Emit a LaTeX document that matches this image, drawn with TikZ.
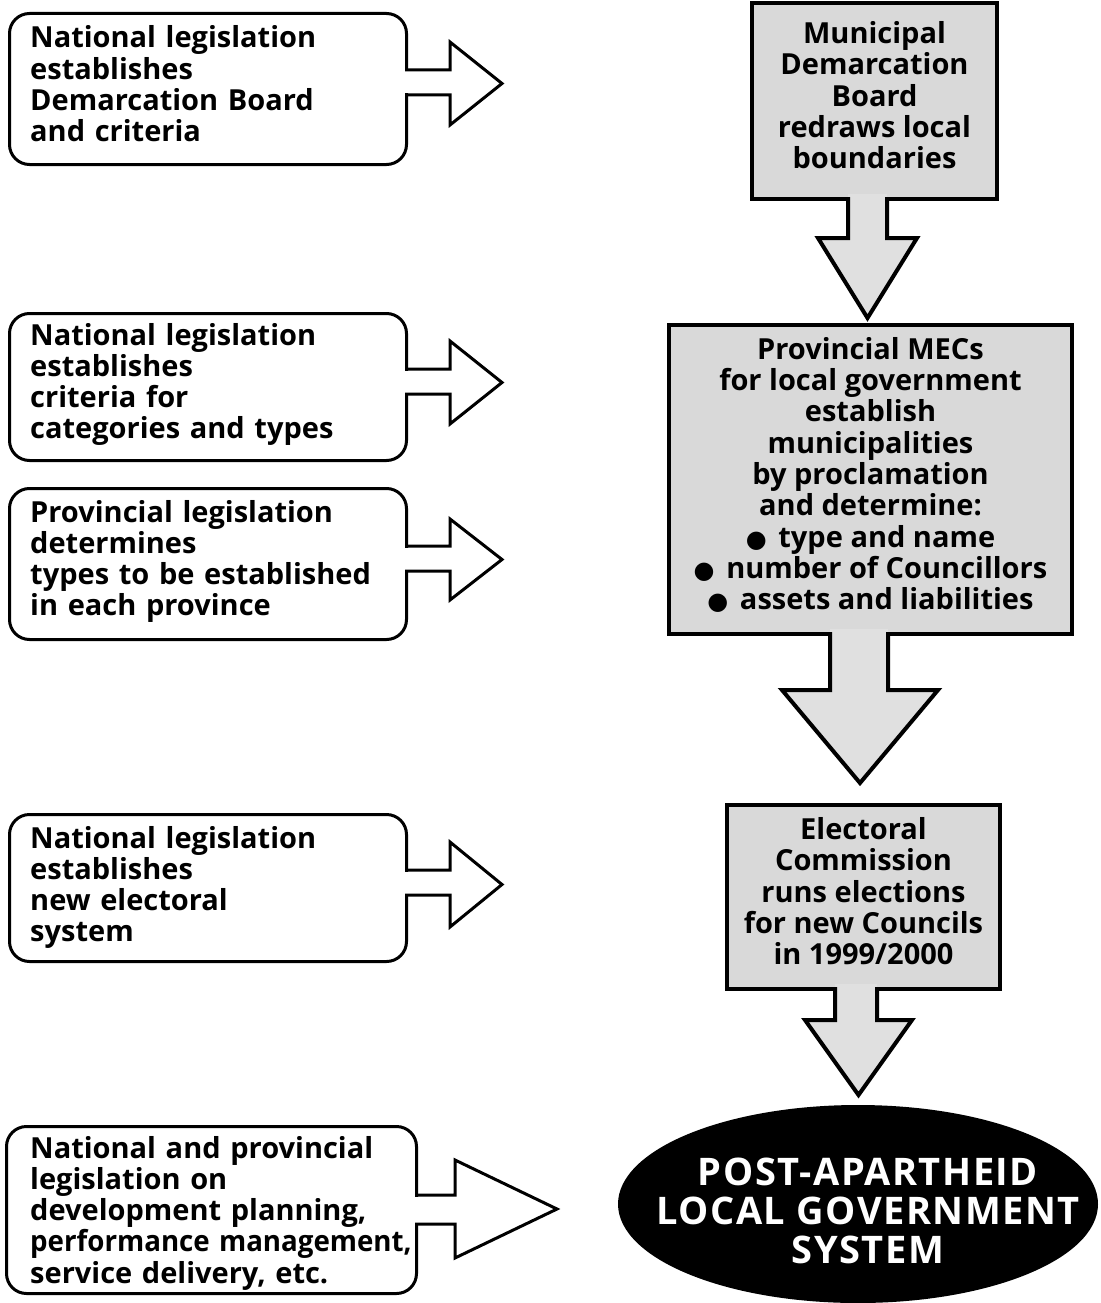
\documentclass[tikz,border=0pt]{standalone}
\usepackage{fontspec}
\usepackage{graphicx}
\setmainfont{Open Sans}
\newfontfamily\ovalfont[LetterSpace=4]{Open Sans}
\newfontfamily\symfont{DejaVu Sans}
\usetikzlibrary{shapes.geometric}
\newcommand\blt{{\symfont\fontsize{24}{24}\selectfont ●}\hspace{0.4em}}
\newcommand\barrowR[7]{%
  \fill[white] (#1-3,#2+1.5) rectangle (#4-1.5,#3-1.5);
  \draw[arrowline] (#1,#2) -- (#4,#2) -- (#4,#5) -- (#7,{(#5+#6)/2}) -- (#4,#6) -- (#4,#3) -- (#1,#3);}
\newcommand\barrowD[7]{%
  \fill[arrowfill] (#2,#1-3) -- (#2,#4) -- (#5,#4) -- ({(#5+#6)/2},#7) -- (#6,#4) -- (#3,#4) -- (#3,#1-3) -- cycle;
  \draw[darrowline] (#2,#1) -- (#2,#4) -- (#5,#4) -- ({(#5+#6)/2},#7) -- (#6,#4) -- (#3,#4) -- (#3,#1);}
\begin{document}
\begin{tikzpicture}[x=1pt,y=-1pt,
  txt/.style={font=\bfseries\fontsize{29}{31.3}\selectfont},
  lbox/.style={draw, line width=3pt, rounded corners=20pt, fill=white, anchor=north west, inner sep=0pt},
  ltext/.style={txt, align=left, inner sep=0pt, anchor=base west, text width=380pt},
  rbox/.style={txt, draw, line width=4pt, fill=black!15, anchor=north west,
    align=center, inner sep=0pt, text depth=12pt},
  arrowline/.style={line width=3pt, line join=miter},
  arrowfill/.style={fill=black!12},
  darrowline/.style={line width=4pt, line join=miter},
  bigoval/.style={ellipse, fill=black, inner sep=0pt},
  ovaltext/.style={text=white, align=center, inner sep=0pt,
    font=\ovalfont\bfseries\fontsize{38}{39}\selectfont}
]
\useasboundingbox (0,0) rectangle (1100,1303);

% left boxes
\node[lbox, minimum width=397, minimum height=151] (L1) at (8,12) {};
\barrowR{405}{70}{95}{450}{42}{125}{502}
\node[ltext] (T1) at (30,48)
  {National legislation\\establishes\\Demarcation Board\\and criteria};

\node[lbox, minimum width=397, minimum height=147] (L2) at (8,312) {};
\barrowR{405}{369}{394}{450}{341}{424}{502}
\node[ltext] (T2) at (30,345)
  {National legislation\\establishes\\criteria for\\categories and types};

\node[lbox, minimum width=397, minimum height=151] (L3) at (8,487) {};
\barrowR{405}{546}{571}{450}{519}{600}{502}
\node[ltext] (T3) at (30,522)
  {Provincial legislation\\determines\\types to be established\\in each province};

\node[lbox, minimum width=397, minimum height=147] (L4) at (8,813) {};
\barrowR{405}{870}{895}{450}{842}{927}{502}
\node[ltext] (T4) at (30,848)
  {National legislation\\establishes\\new electoral\\system};

\node[lbox, minimum width=410, minimum height=167] (L5) at (5,1125) {};
\barrowR{415}{1195}{1224}{455}{1160}{1258}{557}
\node[ltext] (T5) at (30,1158)
  {National and provincial\\legislation on\\development planning,\\\scalebox{0.955}[1]{performance management,}\\service delivery, etc.};

% right column
\node[rbox, minimum width=245, minimum height=195.5] (R1) at (750,1.5)
  {Municipal\\Demarcation\\Board\\redraws local\\boundaries};
\barrowD{197}{848}{887}{238}{818}{917}{318}

\node[rbox, minimum width=403, minimum height=309] (R2) at (667,323)
  {Provincial MECs\\for local government\\establish\\municipalities\\by proclamation\\and determine:\\
   \blt type and name\\\blt number of Councillors\\\blt assets and liabilities};
\barrowD{632}{830}{888}{690}{782}{938}{783}

\node[rbox, minimum width=273, minimum height=184] (R3) at (725,803)
  {Electoral\\Commission\\runs elections\\for new Councils\\in 1999/2000};
\barrowD{987}{835}{877}{1020}{805}{912}{1095}

\node[bigoval, minimum width=480, minimum height=198] (E) at (858,1204) {};
\node[ovaltext] (ET) at (868,1211) {POST-APARTHEID\\LOCAL GOVERNMENT\\SYSTEM};
\end{tikzpicture}
\end{document}
